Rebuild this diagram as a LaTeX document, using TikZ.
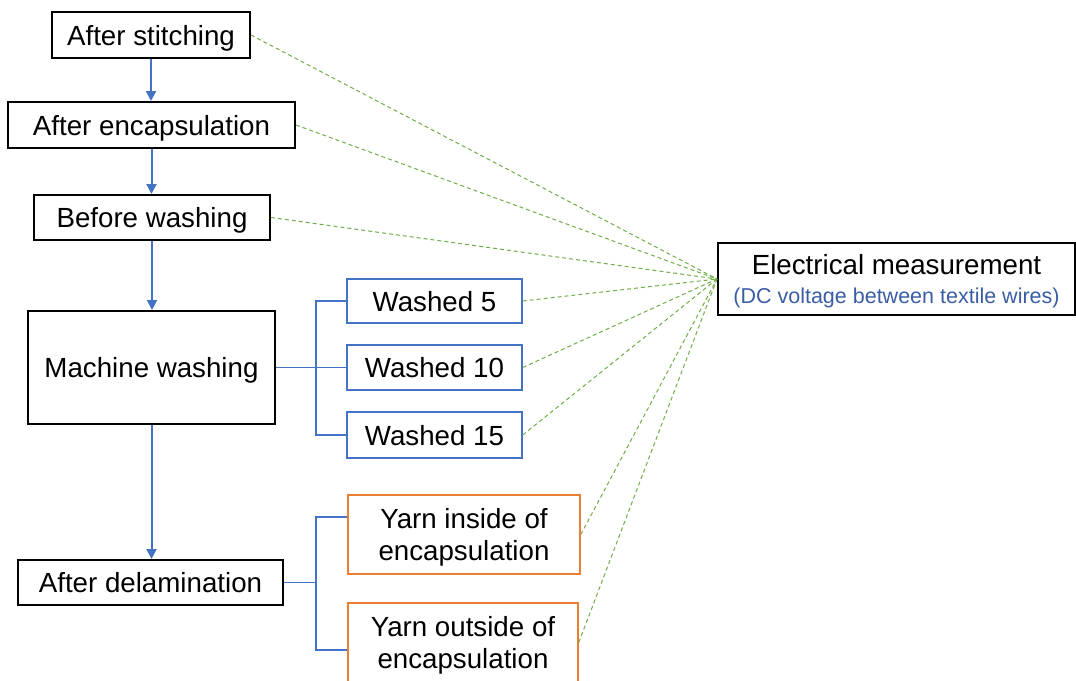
\documentclass[tikz,border=0pt]{standalone}
\usepackage{fontspec}
\setmainfont{Liberation Sans}
\usetikzlibrary{arrows.meta,calc}
\definecolor{flowblue}{HTML}{4472C4}
\definecolor{yarnorange}{HTML}{ED7D31}
\definecolor{linkgreen}{HTML}{70AD47}
\definecolor{notblue}{HTML}{3A5DA6}
\begin{document}
\begin{tikzpicture}[x=1pt,y=-1pt,
  base/.style={inner sep=0pt,align=center,text depth=0pt,font=\fontsize{27.7}{32}\selectfont},
  stage/.style={base,draw=black,line width=2pt},
  wash/.style={base,draw=flowblue,line width=1.5pt},
  yarn/.style={base,draw=yarnorange,line width=1.5pt},
  flow/.style={draw=flowblue,line width=2pt,-{Triangle[length=10pt,width=10pt]}},
  bracket/.style={draw=flowblue,line width=1.5pt},
  link/.style={draw=linkgreen,line width=1pt,dash pattern=on 4pt off 3pt}]
\useasboundingbox (0,0) rectangle (1076,680);

% main sequence of stages
\node[stage,minimum width=198pt,minimum height=46pt] (s1) at (151,35) {After stitching};
\node[stage,minimum width=287pt,minimum height=46pt] (s2) at (151.5,125) {After encapsulation};
\node[stage,minimum width=236pt,minimum height=45pt] (s3) at (152,217.5) {Before washing};
\node[stage,minimum width=247pt,minimum height=113pt] (mw) at (151.5,367.5) {Machine washing};
\node[stage,minimum width=265pt,minimum height=45pt] (dl) at (150.5,582.5) {After delamination};

% washing cycles
\node[wash,minimum width=175pt,minimum height=44pt] (w5) at (434.5,301) {Washed 5};
\node[wash,minimum width=175pt,minimum height=45pt] (w10) at (434.5,367.5) {Washed 10};
\node[wash,minimum width=175pt,minimum height=46pt] (w15) at (434.5,435) {Washed 15};

% yarn samples after delamination
\node[yarn,minimum width=232pt,minimum height=79pt] (yi) at (464,534.5) {Yarn inside of\\encapsulation};
\node[yarn,minimum width=230pt,minimum height=79pt] (yo) at (463,642.5) {Yarn outside of\\encapsulation};

% measurement
\node[stage,minimum width=357pt,minimum height=72pt] (em) at (896.5,279)
  {Electrical measurement\\[-3pt]{\color{notblue}\fontsize{21.5}{26}\selectfont (DC voltage between textile wires)}};

% flow arrows
\draw[flow] (s1.south) -- (s1.south |- s2.north);
\draw[flow] (s2.south) -- (s2.south |- s3.north);
\draw[flow] (s3.south) -- (s3.south |- mw.north);
\draw[flow] (mw.south) -- (mw.south |- dl.north);

% brackets
\coordinate (bw) at (316,0);
\draw[bracket] (mw.east) -- (w10.west);
\draw[bracket] (w5.west) -- (w5.west -| bw) -- (w15.west -| bw) -- (w15.west);
\coordinate (yt) at (316,517);
\coordinate (yb) at (316,650);
\draw[bracket] (dl.east) -- (dl.east -| yt);
\draw[bracket] (yi.west |- yt) -- (yt) -- (yb) -- (yo.west |- yb);

% measurement links
\foreach \n in {s1,s2,s3,w5,w10,w15,yi,yo}
  \draw[link] (\n.east) -- (em.west);
\end{tikzpicture}
\end{document}
